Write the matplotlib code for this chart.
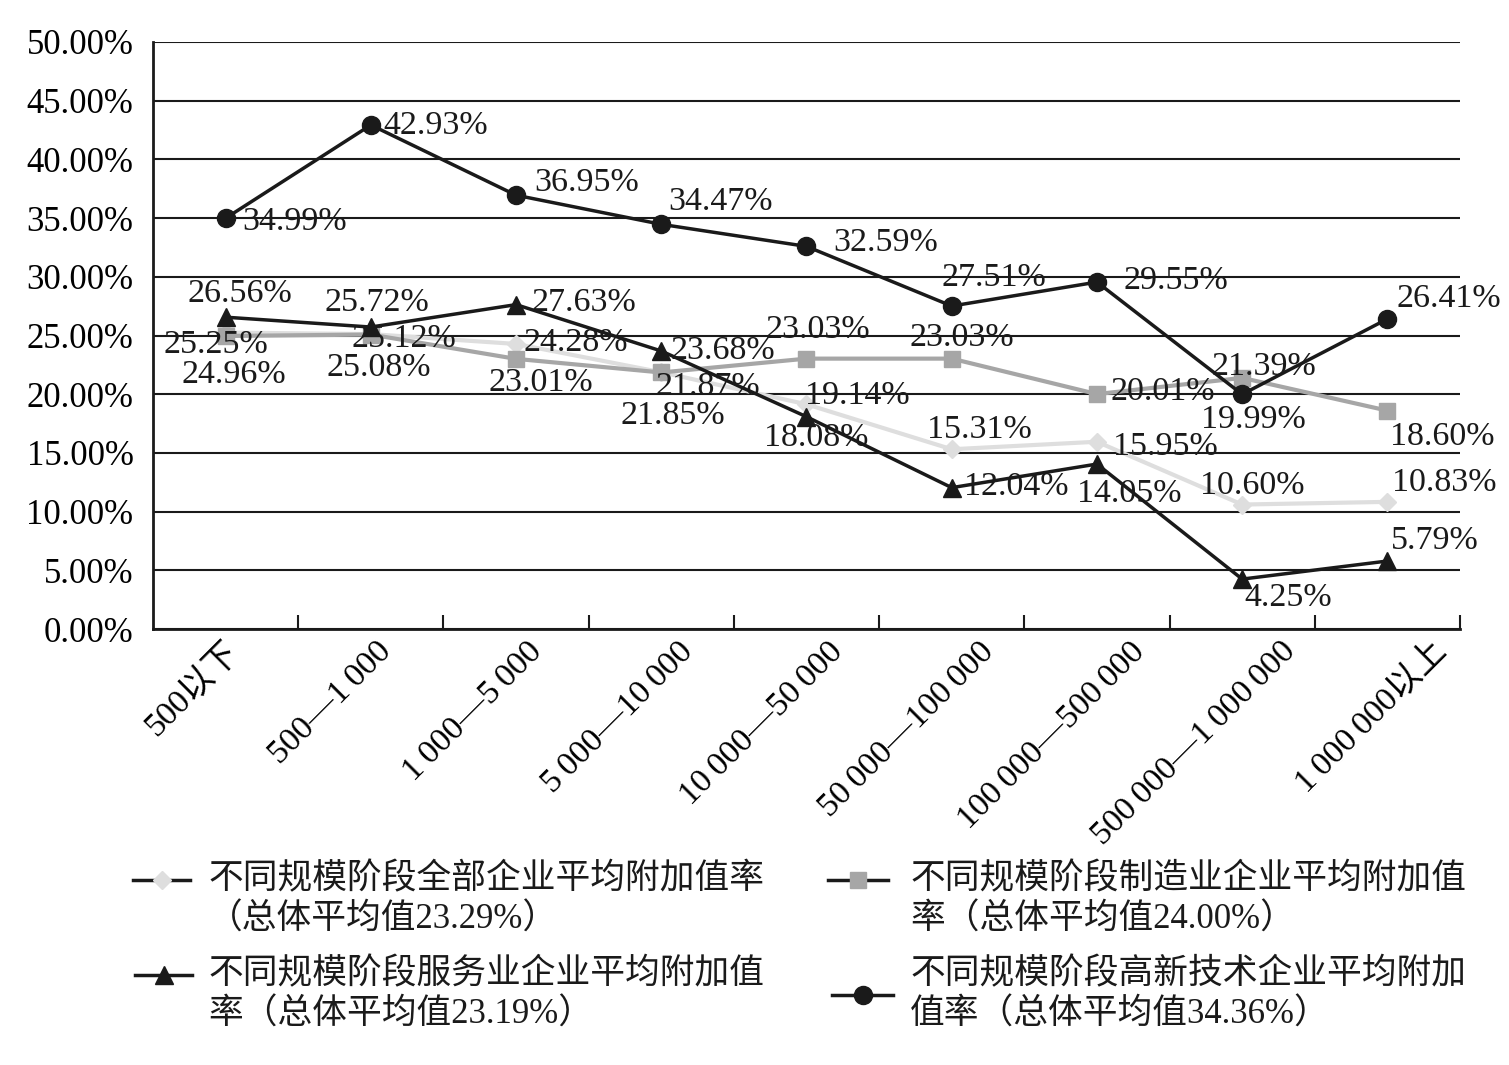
import numpy as np
import matplotlib
matplotlib.use("Agg")
import matplotlib.pyplot as plt
import matplotlib.transforms as mtransforms
from matplotlib.lines import Line2D

plt.rcParams['font.family'] = ['Liberation Serif', 'Noto Sans CJK SC', 'DejaVu Sans']

# categories (enterprise size bands)
categories = ["500以下", "500—1\u2009000", "1\u2009000—5\u2009000", "5\u2009000—10\u2009000",
              "10\u2009000—50\u2009000", "50\u2009000—100\u2009000", "100\u2009000—500\u2009000",
              "500\u2009000—1\u2009000\u2009000", "1\u2009000\u2009000以上"]

# average value-added rate (%) per size band
all_firms = [25.25, 25.12, 24.28, 21.87, 19.14, 15.31, 15.95, 10.60, 10.83]
manufacturing = [24.96, 25.08, 23.01, 21.85, 23.03, 23.03, 20.01, 21.39, 18.60]
services = [26.56, 25.72, 27.63, 23.68, 18.08, 12.04, 14.05, 4.25, 5.79]
high_tech = [34.99, 42.93, 36.95, 34.47, 32.59, 27.51, 29.55, 19.99, 26.41]

legend_labels = [
    "不同规模阶段全部企业平均附加值率\n（总体平均值23.29%）",
    "不同规模阶段服务业企业平均附加值\n率（总体平均值23.19%）",
    "不同规模阶段制造业企业平均附加值\n率（总体平均值24.00%）",
    "不同规模阶段高新技术企业平均附加\n值率（总体平均值34.36%）",
]

# label offsets in pixels (dx, dy) from each marker
off_all = [(-10, -12), (33, -5), (60, 1), (47, -15), (51, 9), (28, 20), (68, -5), (10, 19), (57, 19)]
off_man = [(8, -39), (8, -33), (25, -24), (12, -43), (11, 29), (10, 21), (66, 2), (22, 11), (55, -26)]
off_srv = [(14, 23), (6, 24), (68, 2), (62, 0), (10, -21), (65, 1), (32, -30), (46, -19), (47, 20)]
off_hit = [(69, -4), (65, -1), (71, 12), (59, 23), (79, 4), (42, 28), (79, 1), (11, -25), (61, 20)]

W, H = 1509, 1065
fig = plt.figure(figsize=(W / 100, H / 100), dpi=100)
ax = fig.add_axes([153 / W, 1 - 629 / H, (1460 - 153) / W, (629 - 42) / H])

x = np.arange(len(categories))

series = [
    (all_firms, off_all, dict(color='#dedede', lw=3, marker='D', ms=9, mfc='#dedede', mec='#dedede'), 3),
    (manufacturing, off_man, dict(color='#a6a6a6', lw=3, marker='s', ms=12, mfc='#a6a6a6', mec='#a6a6a6'), 4),
    (services, off_srv, dict(color='#1a1a1a', lw=2.5, marker='^', ms=13, mfc='#1a1a1a', mec='#1a1a1a'), 5),
    (high_tech, off_hit, dict(color='#1a1a1a', lw=2.5, marker='o', ms=13, mfc='#1a1a1a', mec='#1a1a1a'), 6),
]

for vals, offs, style, z in series:
    ax.plot(x, vals, zorder=z, **style)
    for xi, v, (dx, dy) in zip(x, vals, offs):
        ax.annotate(f"{v:.2f}%", (xi, v), xytext=(dx, dy), textcoords='offset pixels',
                    ha='center', va='center', fontsize=24.5, color='#1a1a1a', zorder=7)

ax.set_xlim(-0.5, len(categories) - 0.5)
ax.set_ylim(0, 50)
ax.set_yticks(np.arange(0, 51, 5))
ax.set_yticklabels([f"{t:.2f}%" for t in np.arange(0, 51, 5)], fontsize=25)
ax.tick_params(axis='y', length=0, pad=14)
ax.grid(axis='y', color='#1a1a1a', lw=1.5)
ax.set_axisbelow(True)

ax.set_xticks(np.arange(0.5, len(categories) - 0.5 + 0.01, 1))
ax.set_xticklabels([])
ax.tick_params(axis='x', which='major', direction='in', length=10, width=1.5, color='#1a1a1a')
ax.set_xticks(x, minor=True)
ax.set_xticklabels(categories, minor=True, rotation=45, ha='right', va='top',
                   rotation_mode='anchor', fontsize=24.5)
ax.tick_params(axis='x', which='minor', length=0, pad=5)
# category labels spread slightly wider than the categories themselves
for i, lbl in enumerate(ax.get_xticklabels(minor=True)):
    shift = mtransforms.ScaledTranslation((-1 + 5.6 * i) / 100, 0, fig.dpi_scale_trans)
    lbl.set_transform(lbl.get_transform() + shift)

for s in ['top', 'right']:
    ax.spines[s].set_visible(False)
for s in ['left', 'bottom']:
    ax.spines[s].set_linewidth(2)
    ax.spines[s].set_color('#1a1a1a')

# legend drawn by hand: (handle x0, x1, handle y, text x, first line y)
legend_pos = [(133, 190, 880, 208, 880), (135, 192, 975, 208, 975),
              (828, 888, 880, 910, 880), (832, 893, 995, 910, 975)]
handle_styles = [series[0][2], series[2][2], series[1][2], series[3][2]]
for (x0, x1, hy, tx, ty), st, lab in zip(legend_pos, handle_styles, legend_labels):
    fig.add_artist(Line2D([x0 / W, x1 / W], [1 - hy / H, 1 - hy / H], transform=fig.transFigure,
                          color='#1a1a1a', lw=2.5))
    fig.add_artist(Line2D([(x0 + x1) / 2 / W], [1 - hy / H], transform=fig.transFigure,
                          marker=st['marker'], ms=st['ms'], mfc=st['mfc'], mec=st['mec'], lw=0))
    for i, line in enumerate(lab.split("\n")):
        fig.text(tx / W, 1 - (ty + i * 40) / H, line, ha='left', va='center', fontsize=25,
                 color='#1a1a1a')

fig.savefig("out.png", dpi=100)
